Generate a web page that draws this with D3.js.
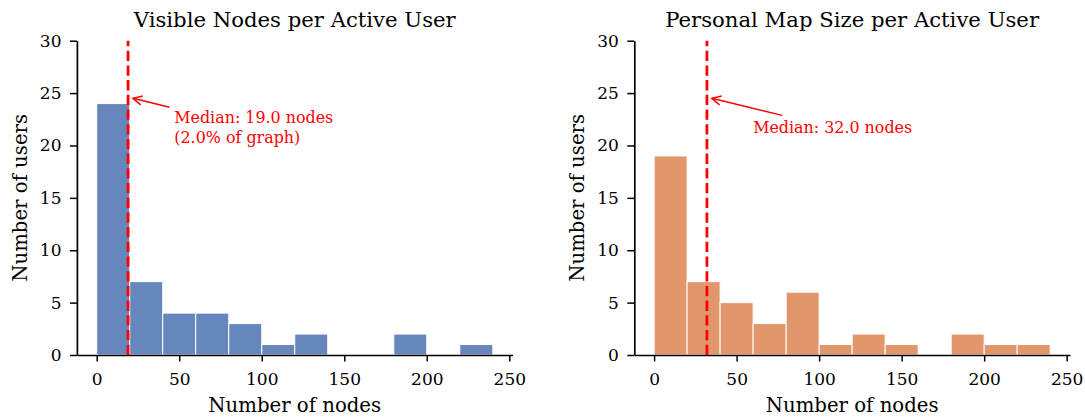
<!DOCTYPE html>
<html>
<head>
<meta charset="utf-8">
<script src="https://cdn.jsdelivr.net/npm/d3@7"></script>
<style>
  body { margin: 0; background: #fff; }
  text { font-family: "DejaVu Serif", serif; }
</style>
</head>
<body>
<div id="chart"></div>
<script>
// histogram bins (left edge of each 20-node bin)
const binStarts = [0, 20, 40, 60, 80, 100, 120, 140, 160, 180, 200, 220];
const binWidth = 20;
const visibleCounts = [24, 7, 4, 4, 3, 1, 2, 0, 0, 2, 0, 1];
const mapSizeCounts = [19, 7, 5, 3, 6, 1, 2, 1, 0, 2, 1, 1];
const xTicks = [0, 50, 100, 150, 200, 250];
const yTicks = [0, 5, 10, 15, 20, 25, 30];
const panels = [
  { title: "Visible Nodes per Active User", counts: visibleCounts, median: 19.0,
    note: ["Median: 19.0 nodes", "(2.0% of graph)"], color: "#4C72B0" },
  { title: "Personal Map Size per Active User", counts: mapSizeCounts, median: 32.0,
    note: ["Median: 32.0 nodes"], color: "#DD8452" }
];

const W = 1085, H = 417;
const svg = d3.select("#chart").append("svg")
  .attr("width", W).attr("height", H);

const axLefts = [76.9, 634.3];
const axWidth = 435.7;
const plotTop = 40.7, plotBottom = 355;

panels.forEach((p, i) => {
  const x = d3.scaleLinear().domain([-12, 252]).range([axLefts[i], axLefts[i] + axWidth]);
  const y = d3.scaleLinear().domain([0, 30]).range([plotBottom, plotTop]);
  const g = svg.append("g");

  const bins = binStarts.map((b, j) => ({ x0: b, x1: b + binWidth, n: p.counts[j] }))
    .filter(d => d.n > 0);

  g.selectAll("rect").data(bins).enter().append("rect")
    .attr("x", d => x(d.x0))
    .attr("y", d => y(d.n))
    .attr("width", d => x(d.x1) - x(d.x0))
    .attr("height", d => y(0) - y(d.n))
    .attr("fill", p.color)
    .attr("fill-opacity", 0.85)
    .attr("stroke", "#fff")
    .attr("stroke-width", 1);

  // median line
  g.append("line")
    .attr("x1", x(p.median)).attr("x2", x(p.median))
    .attr("y1", y(0)).attr("y2", y(30))
    .attr("stroke", "red")
    .attr("stroke-width", 2.8)
    .attr("stroke-dasharray", "10.3,4.4");

  // axes
  const xa = g.append("g")
    .attr("transform", "translate(0," + plotBottom + ")")
    .call(d3.axisBottom(x).tickValues(xTicks).tickSize(6.5).tickSizeOuter(0).tickPadding(11.4));
  const ya = g.append("g")
    .attr("transform", "translate(" + axLefts[i] + ",0)")
    .call(d3.axisLeft(y).tickValues(yTicks).tickSize(7).tickSizeOuter(0).tickPadding(8.4));
  [xa, ya].forEach(a => {
    a.selectAll("text").attr("font-size", 17).attr("font-family", "DejaVu Serif").attr("fill", "#000");
    a.selectAll("line").attr("stroke", "#000").attr("stroke-width", 1.5);
    a.select(".domain").attr("stroke", "#000").attr("stroke-width", 1.7);
  });

  const cx = axLefts[i] + axWidth / 2;
  g.append("text")
    .attr("x", cx).attr("y", 27.3)
    .attr("text-anchor", "middle")
    .attr("font-size", 21.2)
    .text(p.title);

  g.append("text")
    .attr("x", cx).attr("y", 412.3)
    .attr("text-anchor", "middle")
    .attr("font-size", 19.7)
    .text("Number of nodes");

  g.append("text")
    .attr("transform", "translate(" + (axLefts[i] - 50) + "," + ((plotTop + plotBottom) / 2) + ") rotate(-90)")
    .attr("text-anchor", "middle")
    .attr("font-size", 19.7)
    .text("Number of users");

  // annotation
  const noteG = g.append("g");
  const cy = y(22);
  const lineH = 19.3;
  p.note.forEach((t, k) => {
    noteG.append("text")
      .attr("x", x(p.median + 28))
      .attr("y", cy + 8.5 + (k - (p.note.length - 1) / 2) * lineH)
      .attr("font-size", 15.9)
      .attr("fill", "red")
      .text(t);
  });
  const bb = noteG.node().getBBox();
  const hx = x(p.median + 3), hy = y(24.5);
  const ccx = bb.x + bb.width / 2, ccy = bb.y + bb.height / 2;
  const pad = 2;
  const dx = hx - ccx, dy = hy - ccy;
  const tx = (bb.width / 2 + pad) / Math.abs(dx);
  const ty = (bb.height / 2 + pad) / Math.abs(dy);
  const t0 = Math.min(tx, ty);
  const len = Math.hypot(dx, dy);
  const sx = ccx + dx * t0 + dx / len * 2.8, sy = ccy + dy * t0 + dy / len * 2.8;
  g.append("line")
    .attr("x1", sx).attr("y1", sy).attr("x2", hx).attr("y2", hy)
    .attr("stroke", "red").attr("stroke-width", 1.5);
  // open arrow head
  const ang = Math.atan2(hy - sy, hx - sx);
  const hl = 9, hw = 4.5;
  const bx = hx - Math.cos(ang) * hl, by = hy - Math.sin(ang) * hl;
  const px = -Math.sin(ang) * hw, py = Math.cos(ang) * hw;
  g.append("path")
    .attr("d", "M" + (bx + px) + "," + (by + py) + "L" + hx + "," + hy + "L" + (bx - px) + "," + (by - py))
    .attr("fill", "none").attr("stroke", "red").attr("stroke-width", 1.5);
});
</script>
</body>
</html>
